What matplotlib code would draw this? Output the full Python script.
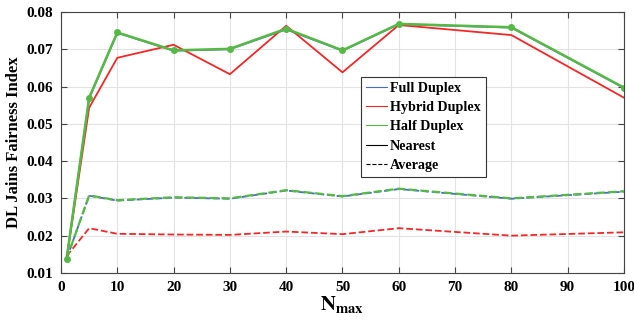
import matplotlib
matplotlib.use('Agg')
from matplotlib import pyplot as plt

n_max = [1, 5, 10, 20, 30, 40, 50, 60, 80, 100]

# nearest association
full_nearest = [0.0138, 0.0568, 0.0744, 0.0696, 0.0700, 0.0753, 0.0696, 0.0767, 0.0758, 0.0596]
hybrid_nearest = [0.0138, 0.0543, 0.0677, 0.0712, 0.0633, 0.0763, 0.0638, 0.0765, 0.0738, 0.0570]
half_nearest = [0.0138, 0.0570, 0.0745, 0.0697, 0.0701, 0.0755, 0.0697, 0.0768, 0.0759, 0.0597]

# average association
full_avg = [0.0138, 0.0307, 0.0294, 0.0302, 0.0299, 0.0321, 0.0305, 0.0325, 0.0299, 0.0318]
hybrid_avg = [0.0145, 0.0220, 0.0205, 0.0203, 0.0202, 0.0211, 0.0204, 0.0220, 0.0200, 0.0209]
half_avg = [0.0138, 0.0308, 0.0295, 0.0303, 0.0300, 0.0322, 0.0306, 0.0326, 0.0300, 0.0319]

plt.rcParams['font.family'] = 'Liberation Serif'
plt.rcParams['font.weight'] = 'bold'
plt.rcParams['mathtext.fontset'] = 'stix'

blue = '#4a6ac8'
red = '#f02828'
green = '#56b946'

fig = plt.figure(figsize=(6.34, 3.23), dpi=100)
ax = fig.add_axes([0.0962, 0.155, 0.888, 0.808])

ax.plot(n_max, full_nearest, c=blue, lw=1.3)
ax.plot(n_max, hybrid_nearest, c=red, lw=1.3)
ax.plot(n_max, half_nearest, c=green, lw=1.8, marker='o', ms=4)
ax.plot(n_max, full_avg, c=blue, lw=1.3, ls='--')
ax.plot(n_max, hybrid_avg, c=red, lw=1.3, ls='--')
ax.plot(n_max, half_avg, c=green, lw=1.6, ls='--')

# legend proxies
h1, = ax.plot([], [], c=blue, lw=0.8)
h2, = ax.plot([], [], c=red, lw=0.8)
h3, = ax.plot([], [], c=green, lw=0.8)
h4, = ax.plot([], [], c='k', lw=0.8)
h5, = ax.plot([], [], c='k', lw=0.8, ls='--')
leg = ax.legend([h1, h2, h3, h4, h5],
                ['Full Duplex', 'Hybrid Duplex', 'Half Duplex', 'Nearest', 'Average'],
                loc='upper left', bbox_to_anchor=(0.533, 0.752), borderaxespad=0,
                fontsize=10.2, handlelength=1.5, handletextpad=0.2, borderpad=0.35,
                labelspacing=0.45, fancybox=False, edgecolor='#333333', framealpha=1)
leg.get_frame().set_linewidth(0.8)

ax.set_xlim(0, 100)
ax.set_ylim(0.01, 0.08)
ax.set_xticks(range(0, 101, 10))
ax.set_yticks([0.01, 0.02, 0.03, 0.04, 0.05, 0.06, 0.07, 0.08])
ax.grid(True, color='#e3e3e3', lw=0.8)
ax.set_axisbelow(True)
ax.tick_params(axis='both', direction='in', top=True, right=True, labelsize=11,
               length=4, color='#444444', pad=6)
for s in ax.spines.values():
    s.set_color('#444444')
    s.set_linewidth(0.8)

ax.set_ylabel('DL Jains Fairness Index', fontsize=12, fontweight='bold', labelpad=3)
ax.set_xlabel(r'$\mathbf{N}_{\mathbf{max}}$', fontsize=15, labelpad=0)

fig.savefig('out.png', dpi=100)
